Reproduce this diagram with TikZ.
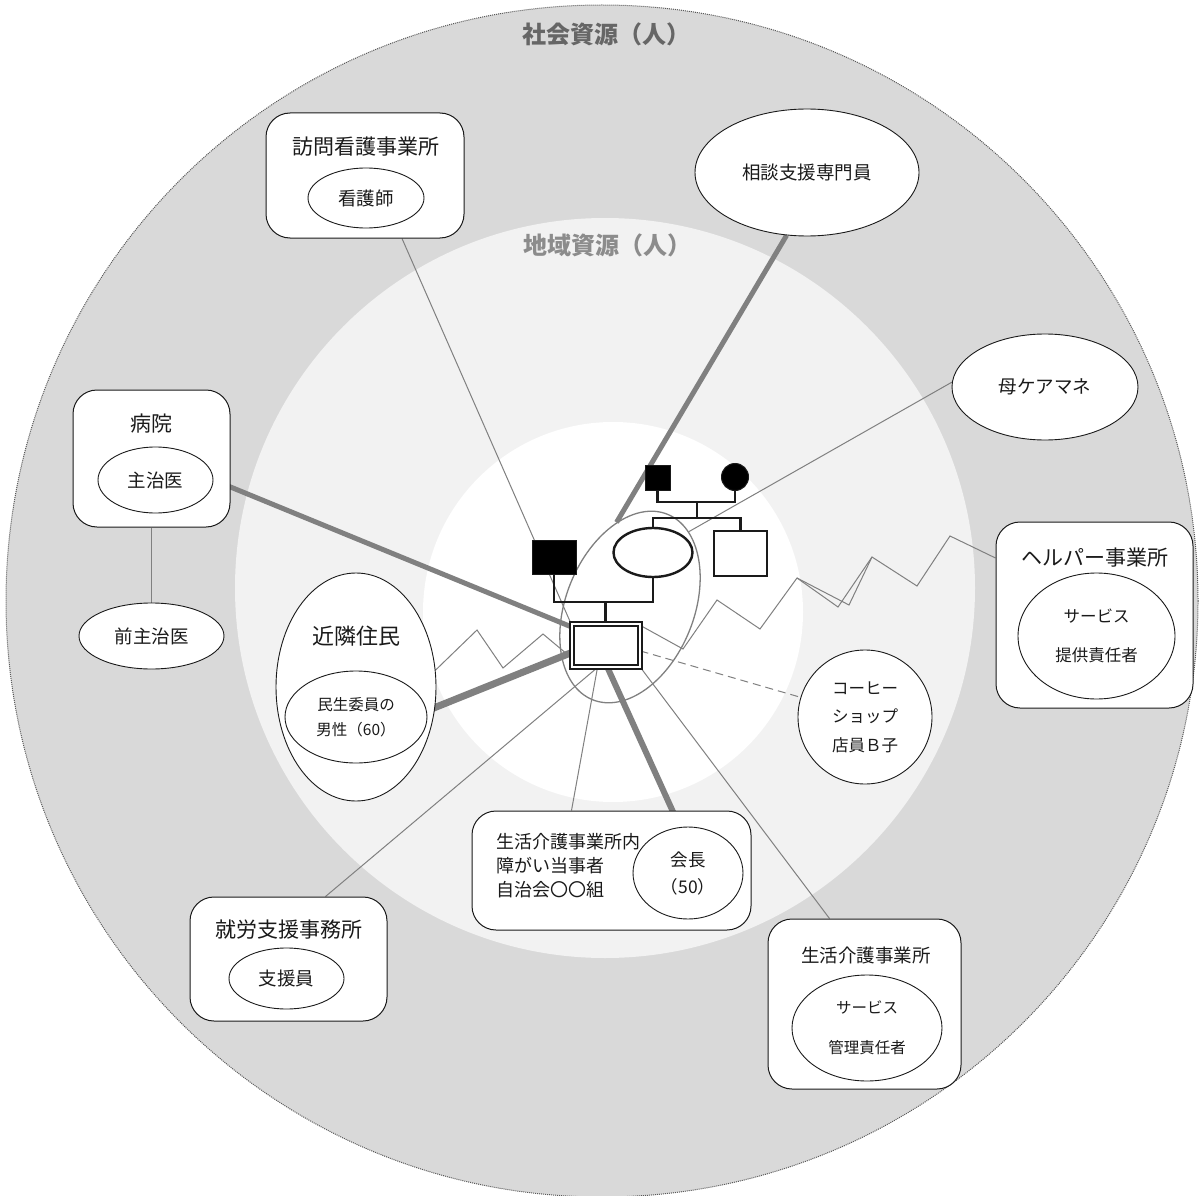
\documentclass[tikz,border=0pt]{standalone}
\usepackage{fontspec}
\setmainfont{Noto Sans CJK JP}
\usetikzlibrary{shapes.geometric}

\definecolor{outerring}{HTML}{D9D9D9}
\definecolor{middlering}{HTML}{F2F2F2}
\definecolor{linkgray}{HTML}{808080}
\definecolor{ringtext}{HTML}{666666}
\definecolor{ringtextlight}{HTML}{8C8C8C}
\definecolor{ink}{HTML}{1A1A1A}

\pgfdeclarelayer{rings}
\pgfdeclarelayer{links}
\pgfsetlayers{rings,links,main}

\tikzset{
  office/.style={draw=ink, rounded corners=24pt, fill=white, line width=1pt},
  staff/.style={draw=ink, ellipse, fill=white, line width=0.9pt, inner sep=0pt, text=ink},
  bigtitle/.style={font=\fontsize{21}{25}\selectfont, text=ink},
  midtext/.style={font=\fontsize{18.5}{24}\selectfont},
  smalltext/.style={font=\fontsize{16}{20}\selectfont},
  ringlabel/.style={font=\fontsize{24}{28}\selectfont\bfseries},
  link/.style={draw=linkgray, line width=1pt},
  strong/.style={draw=linkgray, line width=5pt},
  kin/.style={draw=ink, line width=2.4pt},
  kinnode/.style={draw=ink, fill=white, line width=2.4pt, inner sep=0pt},
  kinfilled/.style={draw=ink, fill=black, line width=1pt, inner sep=0pt},
}

\begin{document}
\begin{tikzpicture}[x=1pt, y=-1pt]
    \useasboundingbox (0,0) rectangle (1203,1196);
    % Draw the resource rings
    \begin{pgfonlayer}{rings}
        \fill[outerring] (602,601) circle (596pt);
        \draw[densely dotted, line width=1pt, draw=black!65] (602,601) circle (596pt);
        \fill[middlering] (605,588) circle (370pt);
        \fill[white] (613,612) circle (190pt);
    \end{pgfonlayer}
    \node[ringlabel, text=ringtext] (shakai) at (606,34) {社会資源（人）};
    \node[ringlabel, text=ringtextlight] (chiiki) at (607,245) {地域資源（人）};

    % Offices and people
    \node[office, minimum width=198pt, minimum height=125pt] (houmon) at (365,175.5) {};
    \node[bigtitle] (houmontitle) at (366,147) {訪問看護事業所};
    \node[staff, midtext, minimum width=116pt, minimum height=60pt] (kango) at (366,198) {看護師};

    \node[staff, midtext, minimum width=224pt, minimum height=127pt] (soudan) at (807,172.5) {相談支援専門員};

    \node[office, minimum width=157pt, minimum height=137pt] (byouin) at (151.5,458.5) {};
    \node[bigtitle] (byouintitle) at (151,424) {病院};
    \node[staff, midtext, minimum width=115pt, minimum height=66pt] (shuji) at (155.5,480) {主治医};
    \node[staff, midtext, minimum width=145pt, minimum height=66pt] (zenshuji) at (151.5,636) {前主治医};

    \node[staff, midtext, minimum width=186pt, minimum height=106pt] (hahacm) at (1045,387) {母ケアマネ};

    \node[office, minimum width=197pt, minimum height=186pt] (helper) at (1094.5,615) {};
    \node[bigtitle] (helpertitle) at (1095,558) {ヘルパー事業所};
    \node[staff, align=center, font=\fontsize{16.5}{39}\selectfont, minimum width=157pt, minimum height=126pt] (teikyo) at (1096.5,636) {サービス\\提供責任者};

    \node[staff, minimum width=160pt, minimum height=228pt] (kinrin) at (356,687) {};
    \node[bigtitle, font=\fontsize{22}{26}\selectfont] (kinrintitle) at (356,636) {近隣住民};
    \node[staff, align=center, font=\fontsize{15.5}{25}\selectfont, minimum width=142pt, minimum height=92pt] (minsei) at (356,717) {民生委員の\\男性（60）};

    \node[staff, circle, align=center, font=\fontsize{16.5}{28.5}\selectfont, minimum size=134pt] (coffee) at (865,717) {コーヒー\\ショップ\\店員Ｂ子};

    \node[office, minimum width=279pt, minimum height=119pt] (naibu) at (611.5,870.5) {};
    \node[staff, align=center, font=\fontsize{17.5}{27}\selectfont, minimum width=110pt, minimum height=92pt] (kaichou) at (688,873) {会長\\（50）};
    \node[text=ink, font=\fontsize{18}{24}\selectfont, anchor=west, align=left] (naibutext) at (493,866) {生活介護事業所内\\障がい当事者\\自治会〇〇組};

    \node[office, minimum width=197pt, minimum height=124pt] (shuro) at (288.5,959) {};
    \node[bigtitle] (shurotitle) at (289,930) {就労支援事務所};
    \node[staff, midtext, minimum width=115pt, minimum height=61pt] (shienin) at (286.5,978.5) {支援員};

    \node[office, minimum width=193pt, minimum height=170pt] (seikatsu) at (864.5,1004) {};
    \node[midtext, text=ink] (seikatsutitle) at (866,955) {生活介護事業所};
    \node[staff, align=center, font=\fontsize{15.5}{40}\selectfont, minimum width=150pt, minimum height=106pt] (sekinin) at (867,1028) {サービス\\管理責任者};

    % Household and genogram
    \node[draw=linkgray, line width=1.3pt, ellipse, inner sep=0pt, minimum width=200pt, minimum height=128pt, rotate=68] (household) at (630,607) {};
    \node[kinfilled, minimum size=25pt] (father) at (657.5,477.5) {};
    \node[kinfilled, circle, minimum size=27pt] (mother) at (735,477) {};
    \node[kinnode, minimum width=53pt, minimum height=45pt] (sibling) at (740.5,553.5) {};
    \node[kinnode, ellipse, minimum width=79pt, minimum height=49pt] (wife) at (653,552.5) {};
    \node[kinfilled, minimum width=44pt, minimum height=34pt] (husband) at (554,557) {};
    \node[draw=ink, fill=white, double, double distance=2pt, line width=2pt, inner sep=0pt, minimum width=68pt, minimum height=43pt] (client) at (605.5,645) {};
    \coordinate (parents) at (697,502);
    \coordinate (sibs) at (697,518);
    \coordinate (couple) at (605.5,602);
    \draw[kin] (father.south) |- (parents) -| (mother.south);
    \draw[kin] (parents) -- (sibs);
    \draw[kin] (wife.north) |- (sibs) -| (sibling.north);
    \draw[kin] (husband.south) |- (couple) -| (wife.south);
    \draw[kin] (couple) -- (client.north);

    % Draw the ties
    \begin{pgfonlayer}{links}
        \draw[link] ([xshift=37pt]houmon.south) -- (client.north west);
        \draw[strong] (soudan.252) -- (household.31);
        \draw[strong] (shuji.east) -- ([yshift=-4pt]client.north west);
        \draw[link] (byouin.south) -- (zenshuji.north);
        \draw[link] (hahacm.177) -- (household.-16);
        \draw[strong, line width=7pt] (minsei.5) -- ([yshift=-8pt]client.west);
        \draw[link] (kinrin.12) -- (477,630) -- (503,668) -- (543,634) -- ([yshift=-12pt]client.west);
        \draw[link] ([yshift=-3pt]client.north east) -- (683,649) -- (717,600) -- (760,629) -- (797,578)
            -- (838,607) -- (872,557) -- (917,586) -- (950,536) -- ([yshift=57pt]helper.west);
        \draw[link] (797,578) -- (849,605) -- (872,557);
        \draw[link, dash pattern=on 8pt off 5pt] ([yshift=-6pt]client.east) -- (coffee.163);
        \draw[link] (client.south east) -- ([xshift=-35pt]seikatsu.north);
        \draw[link] ([xshift=-8pt]client.south) -- ([xshift=-40pt]naibu.north);
        \draw[link] ([xshift=-8pt]client.south) -- ([xshift=37pt]shuro.north);
        \draw[strong, line width=6pt] ([xshift=2pt]client.south) -- (kaichou.100);
    \end{pgfonlayer}
\end{tikzpicture}
\end{document}
